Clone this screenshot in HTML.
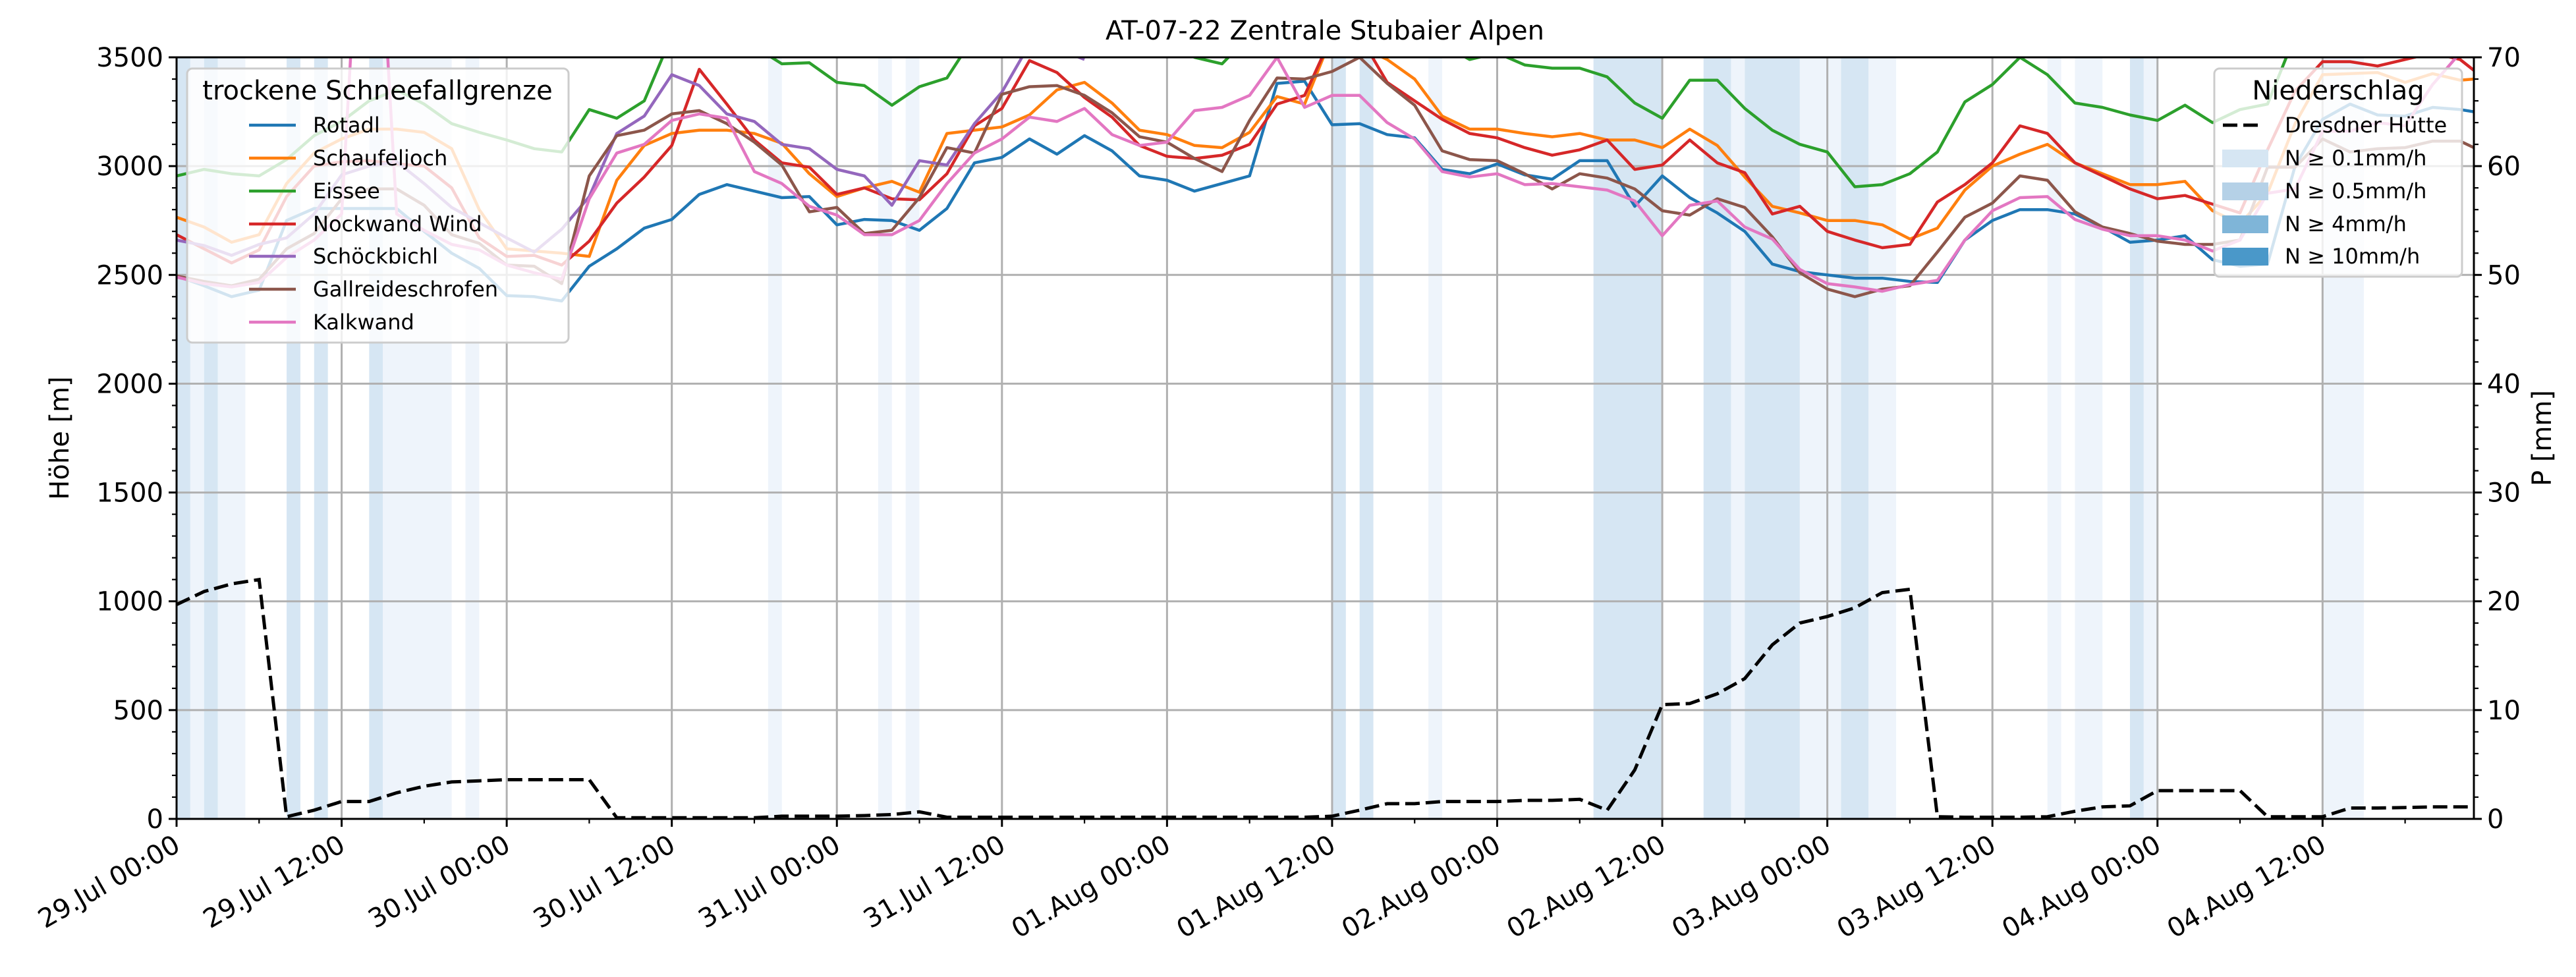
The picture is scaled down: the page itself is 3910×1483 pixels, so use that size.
<!DOCTYPE html>
<html><head><meta charset="utf-8">
<style>
html,body{margin:0;padding:0;background:#fff;}
svg text{font-family:"DejaVu Sans","Liberation Sans",sans-serif;}
</style></head>
<body>
<svg id="chart" xmlns="http://www.w3.org/2000/svg" width="3910" height="1478" viewBox="0 0 3910 1478">
<rect x="0" y="0" width="3910" height="1478" fill="#fff"/>
<defs><clipPath id="plotclip"><rect x="268" y="87" width="3487" height="1156"/></clipPath></defs>
<g id="bands" clip-path="url(#plotclip)"></g>
<g id="grid"></g>
<g id="series" clip-path="url(#plotclip)"></g>
<g id="precip" clip-path="url(#plotclip)"></g>
<g id="axes"></g>
<g id="legends"></g>
</svg>
<script>
const hours=[0,2,4,6,8,10,12,14,16,18,20,22,24,26,28,30,32,34,36,38,40,42,44,46,48,50,52,54,56,58,60,62,64,66,68,70,72,74,76,78,80,82,84,86,88,90,92,94,96,98,100,102,104,106,108,110,112,114,116,118,120,122,124,126,128,130,132,134,136,138,140,142,144,146,148,150,152,154,156,158,160,162,164,166,167];
const rotadl=[2495,2450,2400,2430,2750,2805,2805,2805,2805,2700,2600,2530,2405,2400,2380,2540,2620,2715,2755,2870,2915,2885,2855,2860,2730,2755,2750,2705,2805,3015,3040,3125,3055,3140,3070,2955,2935,2885,2920,2955,3380,3390,3190,3195,3145,3130,2985,2965,3010,2960,2940,3025,3025,2815,2955,2855,2785,2700,2550,2515,2500,2485,2485,2470,2465,2660,2750,2800,2800,2780,2720,2650,2660,2680,2570,2540,2550,3000,3215,3285,3235,3230,3270,3260,3250];
const schaufeljoch=[2765,2720,2650,2685,2920,3060,3125,3170,3170,3155,3080,2800,2620,2610,2600,2585,2935,3095,3150,3165,3165,3150,3105,2965,2860,2900,2930,2880,3150,3165,3180,3235,3350,3385,3290,3165,3145,3095,3085,3155,3320,3285,3600,3550,3490,3400,3230,3170,3170,3150,3135,3150,3120,3120,3085,3170,3095,2950,2815,2785,2750,2750,2730,2665,2715,2890,3000,3055,3100,3015,2965,2915,2915,2930,2795,2735,2875,3195,3420,3425,3430,3385,3425,3395,3400];
const eissee=[2955,2985,2965,2955,3030,3140,3205,3300,3350,3285,3195,3155,3120,3080,3065,3260,3220,3300,3600,3600,3600,3550,3470,3475,3385,3370,3280,3365,3405,3600,3560,3560,3560,3560,3560,3560,3560,3500,3470,3600,3600,3600,3600,3600,3600,3600,3560,3490,3520,3465,3450,3450,3410,3290,3220,3395,3395,3265,3165,3100,3065,2905,2915,2965,3065,3295,3375,3500,3420,3290,3270,3235,3210,3280,3200,3260,3285,3600,3600,3600,3600,3600,3600,3600,3600];
const nockwand=[2685,2620,2555,2615,2860,3000,3020,3025,3010,3000,2900,2670,2585,2590,2545,2655,2830,2950,3095,3445,3285,3120,3015,2995,2870,2900,2850,2845,2965,3185,3265,3485,3430,3315,3225,3095,3045,3035,3050,3100,3285,3325,3600,3600,3385,3300,3215,3150,3130,3085,3050,3075,3120,2985,3005,3120,3015,2970,2780,2815,2700,2660,2625,2640,2835,2915,3015,3185,3150,3015,2955,2895,2850,2865,2825,2785,3075,3345,3480,3480,3460,3490,3520,3490,3440];
const schoeckbichl=[2660,2635,2590,2640,2670,2780,2960,3000,3020,2920,2810,2740,2670,2605,2710,2860,3150,3230,3420,3370,3240,3205,3100,3080,2985,2955,2820,3025,3005,3195,3340,3560,3540,3490,null,null,null,null,null,null,null,null,null,null,null,null,null,null,null,null,null,null,null,null,null,null,null,null,null,null,null,null,null,null,null,null,null,null,null,null,null,null,null,null,null,null,null,null,null,null,null,null,null,null,null];
const gallreide=[2495,2470,2450,2480,2620,2690,2850,2895,2895,2820,2685,2645,2545,2540,2460,2955,3140,3165,3240,3255,3195,3110,3005,2790,2810,2690,2705,2855,3085,3060,3330,3365,3370,3325,3245,3135,3110,3035,2975,3210,3405,3400,3435,3500,3380,3280,3070,3030,3025,2965,2895,2965,2945,2895,2795,2775,2850,2810,2675,2510,2435,2400,2435,2450,2605,2765,2830,2955,2935,2790,2720,2690,2655,2640,2640,2660,2995,2995,3125,3065,3080,3085,3115,3115,3085];
const kalkwand=[2490,2460,2445,2465,2580,2660,2780,5000,2780,2705,2640,2615,2545,2510,2480,2850,3060,3100,3210,3240,3220,2975,2920,2815,2775,2685,2685,2750,2920,3060,3125,3225,3205,3265,3145,3095,3110,3255,3270,3325,3500,3270,3325,3325,3200,3125,2975,2950,2965,2915,2920,2905,2890,2840,2680,2820,2840,2720,2665,2525,2460,2445,2425,2455,2475,2660,2795,2855,2860,2755,2710,2680,2680,2660,2610,2660,2875,2895,3160,3160,3200,3185,3375,3520,3500];
const precipMM=[19.7,20.9,21.6,22.0,0.2,0.8,1.6,1.6,2.4,3.0,3.4,3.5,3.6,3.6,3.6,3.6,0.1,0.1,0.1,0.1,0.1,0.1,0.25,0.25,0.25,0.3,0.4,0.65,0.15,0.15,0.15,0.15,0.15,0.15,0.15,0.15,0.15,0.15,0.15,0.15,0.15,0.15,0.25,0.8,1.4,1.4,1.6,1.6,1.6,1.7,1.7,1.8,0.8,4.5,10.5,10.6,11.5,12.9,16.0,18.0,18.6,19.4,20.8,21.1,0.2,0.15,0.15,0.15,0.2,0.7,1.1,1.2,2.6,2.6,2.6,2.6,0.2,0.2,0.2,1.0,1.0,1.05,1.1,1.1,1.1];
const bandStart=[0,1,2,3,8,10,14,15,21,43,51,53,84,86,91,103,111,113,114,118,121,123,136,138,142,143,156];
const bandEnd=[1,2,3,5,9,11,15,20,22,44,52,54,85,87,92,108,113,114,118,121,123,125,137,140,143,144,159];
const bandLevel=[1,0,1,0,1,1,1,0,0,0,0,0,1,1,0,1,1,0,1,0,1,0,0,0,1,0,0];
const xTickLabels=["29.Jul 00:00","29.Jul 12:00","30.Jul 00:00","30.Jul 12:00","31.Jul 00:00","31.Jul 12:00","01.Aug 00:00","01.Aug 12:00","02.Aug 00:00","02.Aug 12:00","03.Aug 00:00","03.Aug 12:00","04.Aug 00:00","04.Aug 12:00"];
const yLeftTicks=[0,500,1000,1500,2000,2500,3000,3500];
const yRightTicks=[0,10,20,30,40,50,60,70];

const NS="http://www.w3.org/2000/svg";
const X0=268,X1=3755,Y0=1243,Y1=87,HMAX=167;
function xS(h){return X0+h*(X1-X0)/HMAX;}
function yL(v){return Y0-v/3500*(Y0-Y1);}
function yR(m){return Y0-m/70*(Y0-Y1);}
function el(tag,attrs,parent){const e=document.createElementNS(NS,tag);for(const k in attrs)e.setAttribute(k,attrs[k]);parent.appendChild(e);return e;}

const gB=document.getElementById('bands');
for(let i=0;i<bandStart.length;i++){
  const r=el('rect',{x:xS(bandStart[i]),y:Y1,width:xS(bandEnd[i])-xS(bandStart[i]),height:Y0-Y1,fill:bandLevel[i]?'#d6e6f3':'#eef4fb'},gB);
  
  
}
const gG=document.getElementById('grid');
for(let i=0;i<xTickLabels.length;i++){
  const x=xS(i*12);
  const l=el('line',{x1:x,x2:x,y1:Y1,y2:Y0,stroke:'#b0b0b0','stroke-width':3},gG);
  
  
}
for(const v of yLeftTicks){
  const l=el('line',{x1:X0,x2:X1,y1:yL(v),y2:yL(v),stroke:'#b0b0b0','stroke-width':3},gG);
  
  
}
const seriesDefs=[["rotadl",rotadl,"#1f77b4"],["schaufeljoch",schaufeljoch,"#ff7f0e"],["eissee",eissee,"#2ca02c"],["nockwand-wind",nockwand,"#d62728"],["schoeckbichl",schoeckbichl,"#9467bd"],["gallreideschrofen",gallreide,"#8c564b"],["kalkwand",kalkwand,"#e377c2"]];
const gS=document.getElementById('series');
for(const [nm,vals,col] of seriesDefs){
  let d='',pen=false;
  for(let i=0;i<hours.length;i++){
    if(vals[i]===null){pen=false;continue;}
    d+=(pen?'L':'M')+xS(hours[i]).toFixed(1)+','+yL(vals[i]).toFixed(1);pen=true;
  }
  const p=el('path',{d:d,fill:'none',stroke:col,'stroke-width':4.5,'stroke-linejoin':'round'},gS);
  
  
}
const gP=document.getElementById('precip');
{
  let d='';
  for(let i=0;i<hours.length;i++)d+=(i?'L':'M')+xS(hours[i]).toFixed(1)+','+yR(precipMM[i]).toFixed(1);
  const p=el('path',{d:d,fill:'none',stroke:'#000','stroke-width':5,'stroke-dasharray':'22,9'},gP);
  
  
}
const gA=document.getElementById('axes');
for(const s of [[X0,Y1,X0,Y0,'left-spine'],[X1,Y1,X1,Y0,'right-spine'],[X0,Y0,X1,Y0,'bottom-spine'],[X0,Y1,X1,Y1,'top-spine']]){
  const l=el('line',{x1:s[0],y1:s[1],x2:s[2],y2:s[3],stroke:'#000','stroke-width':3,'stroke-linecap':'square'},gA);
  
  
}
for(let h=0;h<=HMAX;h+=6){
  const maj=h%12===0;
  const t=el('line',{x1:xS(h),x2:xS(h),y1:Y0,y2:Y0+(maj?12:7),stroke:'#000','stroke-width':maj?3:2.2},gA);
  
  
}
for(let i=0;i<xTickLabels.length;i++){
  const t=el('text',{transform:'translate('+(xS(i*12)+8)+',1290) rotate(-30)','text-anchor':'end','font-size':40,fill:'#000'},gA);
  t.textContent=xTickLabels[i];
  
  
}
for(let v=0;v<=3500;v+=100){
  const maj=v%500===0;
  const t=el('line',{x1:X0-(maj?12:7),x2:X0,y1:yL(v),y2:yL(v),stroke:'#000','stroke-width':maj?3:2.2},gA);
  
  
}
for(const v of yLeftTicks){
  const t=el('text',{x:X0-20,y:yL(v)+14,'text-anchor':'end','font-size':40,fill:'#000'},gA);
  t.textContent=v;
  
  
}
for(let m=0;m<=70;m+=2){
  const maj=m%10===0;
  const t=el('line',{x1:X1,x2:X1+(maj?12:7),y1:yR(m),y2:yR(m),stroke:'#000','stroke-width':maj?3:2.2},gA);
  
  
}
for(const m of yRightTicks){
  const t=el('text',{x:X1+20,y:yR(m)+14,'text-anchor':'start','font-size':40,fill:'#000'},gA);
  t.textContent=m;
  
  
}
</script>
<svg style="position:absolute;left:0;top:0" width="3910" height="1478" viewBox="0 0 3910 1478" xmlns="http://www.w3.org/2000/svg">
<text x="2011" y="60" text-anchor="middle" font-size="40" font-family="DejaVu Sans, Liberation Sans, sans-serif">AT-07-22 Zentrale Stubaier Alpen</text>
<text transform="translate(104,665) rotate(-90)" text-anchor="middle" font-size="40" font-family="DejaVu Sans, Liberation Sans, sans-serif">Höhe [m]</text>
<text transform="translate(3872,665) rotate(-90)" text-anchor="middle" font-size="40" font-family="DejaVu Sans, Liberation Sans, sans-serif">P [mm]</text>
<g font-family="DejaVu Sans, Liberation Sans, sans-serif">
<rect x="284" y="104" width="579" height="416" rx="8" fill="#fff" fill-opacity="0.8" stroke="#cccccc" stroke-width="3"/>
<text x="573" y="151" text-anchor="middle" font-size="40">trockene Schneefallgrenze</text>
<g><line x1="378" x2="449" y1="190" y2="190" stroke="#1f77b4" stroke-width="4.5"/><text x="475" y="201" font-size="32">Rotadl</text></g>
<g><line x1="378" x2="449" y1="240" y2="240" stroke="#ff7f0e" stroke-width="4.5"/><text x="475" y="251" font-size="32">Schaufeljoch</text></g>
<g><line x1="378" x2="449" y1="290" y2="290" stroke="#2ca02c" stroke-width="4.5"/><text x="475" y="301" font-size="32">Eissee</text></g>
<g><line x1="378" x2="449" y1="340" y2="340" stroke="#d62728" stroke-width="4.5"/><text x="475" y="351" font-size="32">Nockwand Wind</text></g>
<g><line x1="378" x2="449" y1="389" y2="389" stroke="#9467bd" stroke-width="4.5"/><text x="475" y="400" font-size="32">Schöckbichl</text></g>
<g><line x1="378" x2="449" y1="439" y2="439" stroke="#8c564b" stroke-width="4.5"/><text x="475" y="450" font-size="32">Gallreideschrofen</text></g>
<g><line x1="378" x2="449" y1="489" y2="489" stroke="#e377c2" stroke-width="4.5"/><text x="475" y="500" font-size="32">Kalkwand</text></g>
</g>
<g font-family="DejaVu Sans, Liberation Sans, sans-serif">
<rect x="3361" y="104" width="376" height="316" rx="8" fill="#fff" fill-opacity="0.8" stroke="#cccccc" stroke-width="3"/>
<text x="3549" y="151" text-anchor="middle" font-size="40">Niederschlag</text>
<g><line x1="3374" x2="3433" y1="190" y2="190" stroke="#000" stroke-width="5" stroke-dasharray="22,9"/><text x="3468" y="201" font-size="32">Dresdner Hütte</text></g>
<g><rect x="3373" y="227" width="70" height="27" fill="#d6e6f3"/><text x="3468" y="251" font-size="32">N ≥ 0.1mm/h</text></g>
<g><rect x="3373" y="277" width="70" height="27" fill="#b5d1e7"/><text x="3468" y="301" font-size="32">N ≥ 0.5mm/h</text></g>
<g><rect x="3373" y="327" width="70" height="27" fill="#7fb5d8"/><text x="3468" y="351" font-size="32">N ≥ 4mm/h</text></g>
<g><rect x="3373" y="376" width="70" height="27" fill="#4a98c9"/><text x="3468" y="400" font-size="32">N ≥ 10mm/h</text></g>
</g>
</svg>
</body></html>
